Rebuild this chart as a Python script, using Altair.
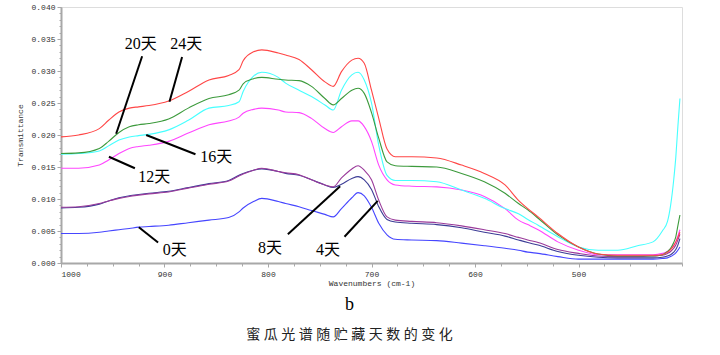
import altair as alt
import pandas as pd

# Wavenumber grid (cm-1) shared by all spectra
wavenumber = [1000, 983, 963, 954, 944, 934, 925, 915, 896, 877,
              857, 838, 828, 824, 814, 806, 790, 783, 770, 758,
              745, 737, 729, 719, 713, 707, 700, 693, 685, 677,
              661, 637, 613, 591, 571, 558, 549, 539, 520, 500,
              481, 462, 443, 428, 419, 414, 411, 408, 406, 404, 402]

day0 = [0.0046, 0.0046, 0.0048, 0.0050, 0.0052, 0.0054, 0.0056, 0.0057, 0.0059, 0.0063,
        0.0067, 0.0071, 0.0080, 0.0086, 0.0096, 0.0101, 0.0096, 0.0093, 0.0088, 0.0082,
        0.0076, 0.0072, 0.0085, 0.0102, 0.0110, 0.0105, 0.0087, 0.0062, 0.0044, 0.0037,
        0.0036, 0.0035, 0.0031, 0.0027, 0.0023, 0.0020, 0.0017, 0.0015, 0.0010, 0.0006,
        0.0006, 0.0006, 0.0006, 0.0006, 0.0007, 0.0008, 0.0010, 0.0013, 0.0016, 0.0020, 0.0025]

day4 = [0.0086, 0.0087, 0.0092, 0.0097, 0.0102, 0.0105, 0.0107, 0.0109, 0.0112, 0.0118,
        0.0124, 0.0129, 0.0137, 0.0140, 0.0145, 0.0147, 0.0143, 0.0140, 0.0137, 0.0130,
        0.0122, 0.0118, 0.0123, 0.0132, 0.0135, 0.0130, 0.0115, 0.0088, 0.0068, 0.0064,
        0.0062, 0.0060, 0.0055, 0.0048, 0.0042, 0.0036, 0.0032, 0.0028, 0.0018, 0.0012,
        0.0009, 0.0008, 0.0008, 0.0008, 0.0009, 0.0011, 0.0013, 0.0017, 0.0021, 0.0028, 0.0038]

day8 = [0.0087, 0.0088, 0.0093, 0.0097, 0.0101, 0.0104, 0.0106, 0.0108, 0.0111, 0.0117,
        0.0123, 0.0128, 0.0136, 0.0139, 0.0145, 0.0148, 0.0143, 0.0141, 0.0138, 0.0130,
        0.0122, 0.0119, 0.0133, 0.0147, 0.0152, 0.0145, 0.0130, 0.0098, 0.0072, 0.0067,
        0.0065, 0.0063, 0.0058, 0.0052, 0.0046, 0.0040, 0.0036, 0.0032, 0.0021, 0.0015,
        0.0011, 0.0010, 0.0010, 0.0011, 0.0012, 0.0015, 0.0018, 0.0023, 0.0028, 0.0036, 0.0045]

day12 = [0.0148, 0.0148, 0.0153, 0.0161, 0.0171, 0.0179, 0.0182, 0.0184, 0.0190, 0.0203,
         0.0216, 0.0222, 0.0228, 0.0234, 0.0240, 0.0242, 0.0239, 0.0236, 0.0235, 0.0226,
         0.0210, 0.0204, 0.0213, 0.0222, 0.0222, 0.0213, 0.0190, 0.0153, 0.0130, 0.0122,
         0.0120, 0.0119, 0.0114, 0.0104, 0.0085, 0.0067, 0.0060, 0.0052, 0.0033, 0.0020,
         0.0013, 0.0013, 0.0013, 0.0013, 0.0015, 0.0018, 0.0022, 0.0028, 0.0033, 0.0042, 0.0052]

day16 = [0.0170, 0.0171, 0.0175, 0.0183, 0.0192, 0.0197, 0.0199, 0.0201, 0.0208, 0.0223,
         0.0242, 0.0246, 0.0252, 0.0268, 0.0292, 0.0298, 0.0290, 0.0281, 0.0270, 0.0260,
         0.0247, 0.0239, 0.0270, 0.0294, 0.0298, 0.0286, 0.0250, 0.0184, 0.0137, 0.0129,
         0.0129, 0.0127, 0.0114, 0.0101, 0.0085, 0.0077, 0.0068, 0.0059, 0.0041, 0.0025,
         0.0020, 0.0020, 0.0027, 0.0033, 0.0050, 0.0065, 0.0090, 0.0130, 0.0165, 0.0213, 0.0257]

day20 = [0.0171, 0.0172, 0.0179, 0.0190, 0.0204, 0.0213, 0.0216, 0.0218, 0.0225, 0.0242,
         0.0257, 0.0263, 0.0270, 0.0280, 0.0288, 0.0290, 0.0287, 0.0286, 0.0285, 0.0276,
         0.0257, 0.0247, 0.0257, 0.0270, 0.0273, 0.0265, 0.0235, 0.0195, 0.0158, 0.0152,
         0.0151, 0.0150, 0.0140, 0.0127, 0.0109, 0.0093, 0.0083, 0.0070, 0.0044, 0.0025,
         0.0014, 0.0011, 0.0011, 0.0011, 0.0013, 0.0018, 0.0023, 0.0032, 0.0041, 0.0058, 0.0075]

day24 = [0.0197, 0.0200, 0.0210, 0.0223, 0.0236, 0.0242, 0.0244, 0.0246, 0.0253, 0.0268,
         0.0286, 0.0293, 0.0302, 0.0316, 0.0330, 0.0333, 0.0328, 0.0325, 0.0318, 0.0302,
         0.0283, 0.0276, 0.0299, 0.0317, 0.0320, 0.0312, 0.0270, 0.0226, 0.0178, 0.0166,
         0.0166, 0.0164, 0.0153, 0.0140, 0.0122, 0.0098, 0.0085, 0.0072, 0.0046, 0.0025,
         0.0014, 0.0012, 0.0012, 0.0012, 0.0013, 0.0017, 0.0021, 0.0027, 0.0033, 0.0040, 0.0048]

series_names = ["0天", "4天", "8天", "12天", "16天", "20天", "24天"]
series_colors = ["#4646FF", "#3C3C96", "#9A3A9A", "#FF46FF", "#46FFFF", "#3C9A3C", "#FF4646"]
series_values = [day0, day4, day8, day12, day16, day20, day24]

# Annotation labels (text position) and pointer lines
label_text = ["20天", "24天", "16天", "12天", "0天", "8天", "4天"]
label_wn = [923, 879, 850, 910, 890, 798, 742]
label_t = [0.0342, 0.0342, 0.0166, 0.0134, 0.0021, 0.0024, 0.0021]
ptr_wn1 = [921.6, 883.0, 917.7, 953.7, 924.8, 730.3, 694.0]
ptr_t1 = [0.0323, 0.0322, 0.0200, 0.0166, 0.0056, 0.0120, 0.0097]
ptr_wn2 = [946.7, 895.2, 870.1, 928.6, 906.2, 780.8, 726.1]
ptr_t2 = [0.0202, 0.0252, 0.0170, 0.0148, 0.0032, 0.0045, 0.0041]

x_major = [1000, 900, 800, 700, 600, 500]
x_minor = list(range(400, 1001, 25))
y_major = [0.000, 0.005, 0.010, 0.015, 0.020, 0.025, 0.030, 0.035, 0.040]
y_minor = [i / 1000 for i in range(0, 41)]

caption = "\u2005".join("蜜瓜光谱随贮藏天数的变化")

rows = []
for name, vals in zip(series_names, series_values):
    for w, v in zip(wavenumber, vals):
        rows.append({"wn": w, "T": v, "series": name})
spectra = pd.DataFrame(rows)

labels = pd.DataFrame({"text": label_text, "wn": label_wn, "T": label_t})
pointers = pd.DataFrame({"wn": ptr_wn1, "T": ptr_t1, "wn2": ptr_wn2, "T2": ptr_t2})

x_scale = alt.Scale(domain=[400, 1000], reverse=True, nice=False, zero=False)
y_scale = alt.Scale(domain=[0, 0.04], nice=False, zero=False)

axis_font = "Liberation Mono"
grey = "#a8a8a8"

lines = alt.Chart(spectra).mark_line(strokeWidth=1.1, interpolate="monotone").encode(
    x=alt.X("wn:Q", scale=x_scale,
            axis=alt.Axis(orient="bottom", values=x_major, format="d",
                          title="Wavenumbers (cm-1)",
                          grid=False, domainColor=grey, domainWidth=2, tickColor=grey,
                          tickSize=4, tickWidth=1, labelFont=axis_font, labelFontSize=8,
                          labelColor="#333", labelPadding=3, titleFont=axis_font,
                          titleFontSize=8, titleFontWeight="normal", titleColor="#333",
                          titlePadding=1)),
    y=alt.Y("T:Q", scale=y_scale,
            axis=alt.Axis(orient="left", values=y_major, format=".3f", title="Transmittance",
                          grid=False, domainColor=grey, domainWidth=2, tickColor=grey,
                          tickSize=4, tickWidth=1, labelFont=axis_font, labelFontSize=8,
                          labelColor="#333", labelPadding=2, titleFont=axis_font,
                          titleFontSize=8, titleFontWeight="normal", titleColor="#333",
                          titlePadding=6)),
    color=alt.Color("series:N", scale=alt.Scale(domain=series_names, range=series_colors),
                    legend=None),
)

ptr = alt.Chart(pointers).mark_rule(color="black", strokeWidth=2).encode(
    x=alt.X("wn:Q", scale=x_scale,
            axis=alt.Axis(orient="bottom", values=x_minor, labels=False, domain=False,
                          grid=False, tickColor=grey, tickSize=3, title=None)),
    y=alt.Y("T:Q", scale=y_scale,
            axis=alt.Axis(orient="left", values=y_minor, labels=False, domain=False,
                          grid=False, tickColor=grey, tickSize=2, title=None)),
    x2="wn2:Q",
    y2="T2:Q",
)

txt = alt.Chart(labels).mark_text(
    font="Liberation Serif, Noto Sans CJK SC", fontSize=16, color="black"
).encode(
    x=alt.X("wn:Q", scale=x_scale, axis=None),
    y=alt.Y("T:Q", scale=y_scale, axis=None),
    text="text:N",
)

chart = alt.layer(lines, ptr, txt).resolve_axis(
    x="independent", y="independent"
).properties(
    width=621,
    height=256,
    autosize=alt.AutoSizeParams(type="none"),
    padding={"left": 61, "top": 7, "right": 38, "bottom": 92},
    title=alt.TitleParams(
        text="b",
        subtitle=caption,
        orient="bottom", anchor="middle", dx=-22, offset=9,
        font="Liberation Serif", fontSize=18, fontWeight="normal", color="black",
        subtitleFont="Noto Sans CJK SC", subtitleFontSize=14, subtitleColor="#222",
        subtitlePadding=14,
    ),
).configure_view(stroke=None).configure(background="white")

chart.save("out.html", embed_options={"renderer": "svg", "actions": False})
